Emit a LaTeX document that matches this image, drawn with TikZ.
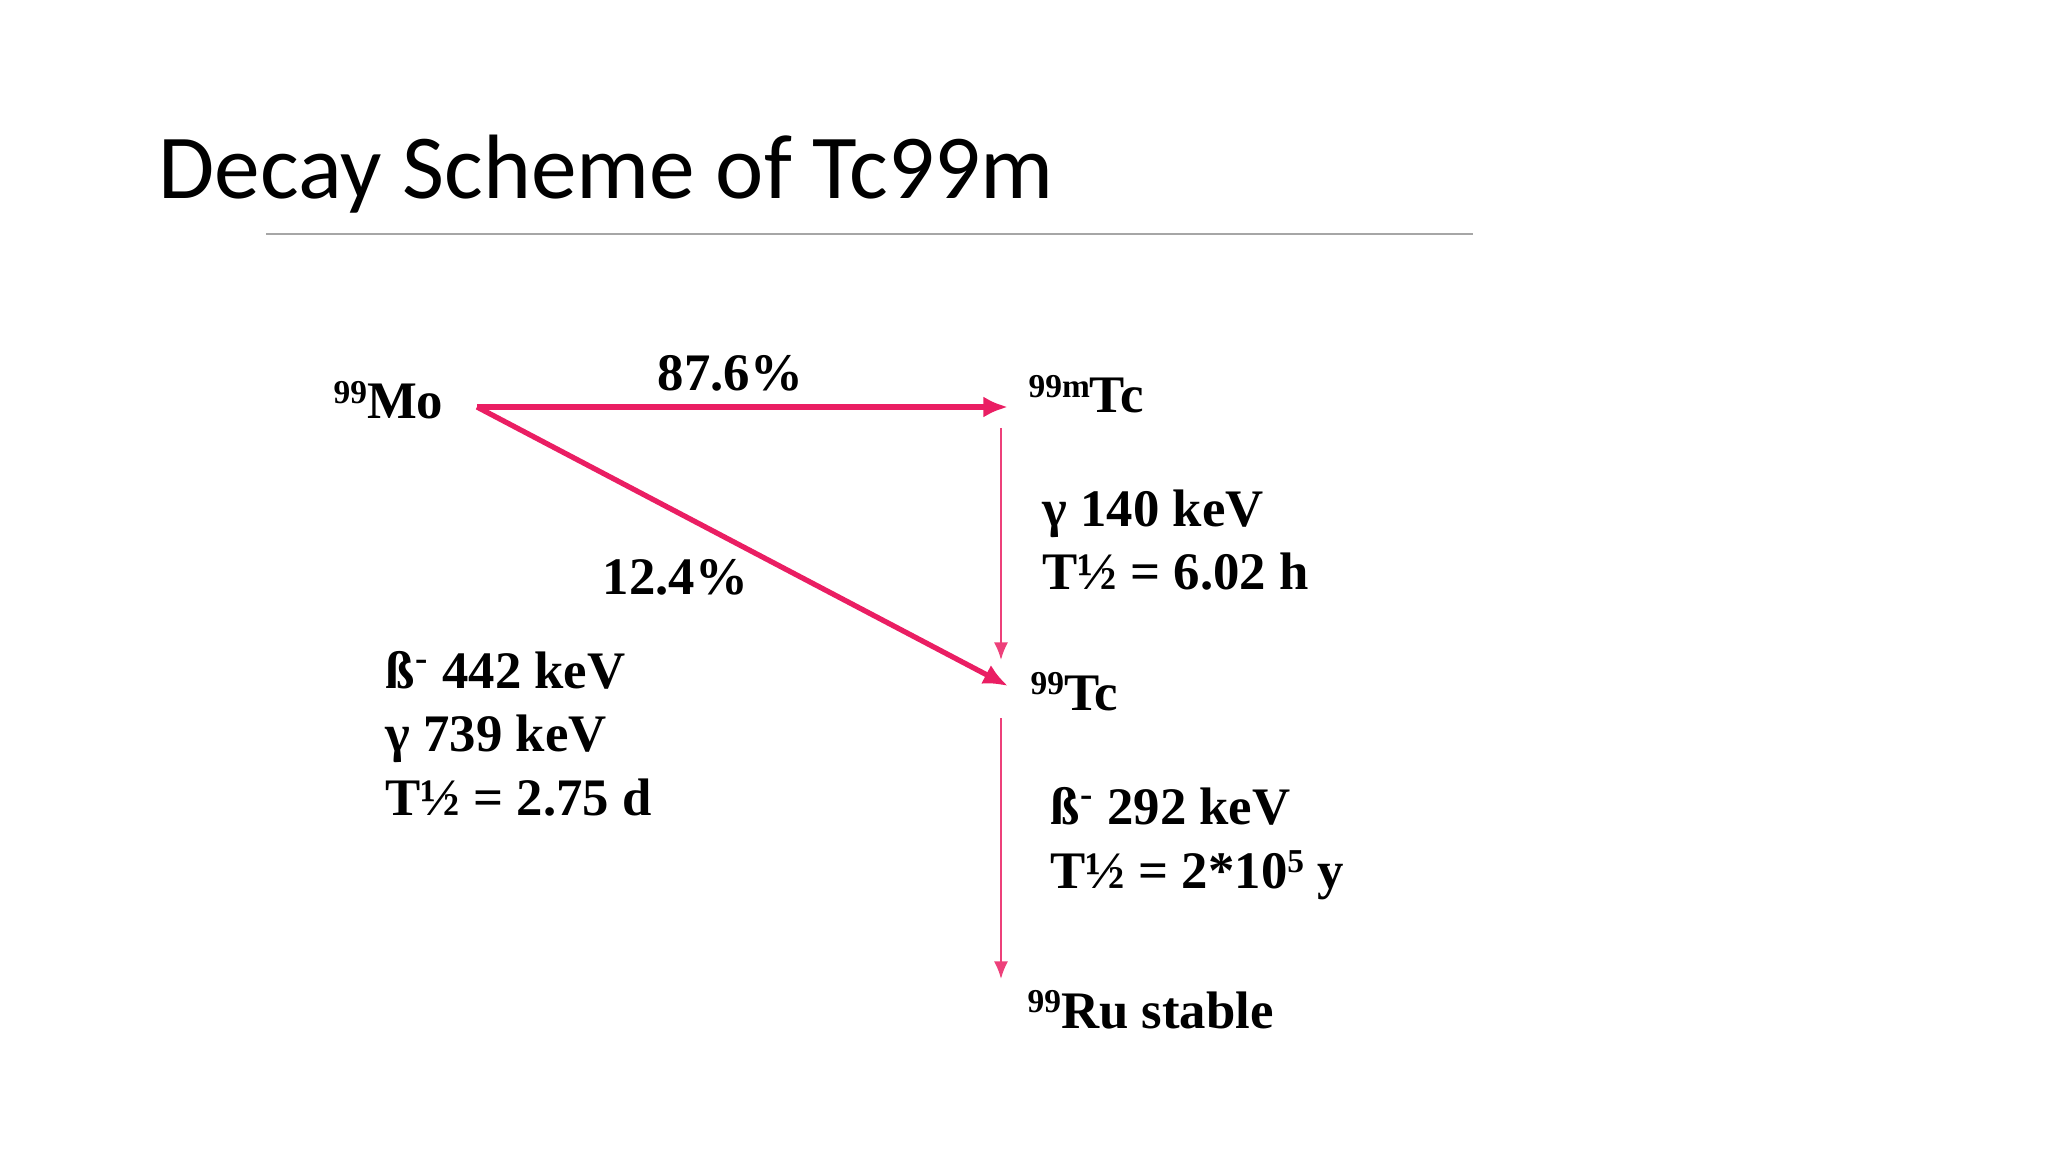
\documentclass[tikz,border=0pt]{standalone}
\usepackage{fontspec}
\setmainfont{Liberation Serif}
\newfontfamily\titlefont{Carlito}
\usetikzlibrary{arrows.meta}
\definecolor{decaypink}{RGB}{234,30,99}
\newcommand\iso[1]{\raisebox{0.62ex}{\fontsize{9.5pt}{10pt}\selectfont #1}}
\tikzset{
  level/.style={anchor=base west, inner sep=0pt, font=\fontsize{15pt}{18pt}\selectfont\bfseries},
  info/.style={level, align=left},
  decay/.style={decaypink, line width=1.5pt, -{Latex[length=7pt,width=6pt]}},
  gammaline/.style={decaypink!85, line width=0.6pt, -{Latex[length=5pt,width=4pt]}}
}
\begin{document}
\begin{tikzpicture}[x=0.01cm, y=-0.01cm]
\useasboundingbox (0,0) rectangle (2048,1152);
% title and rule
\node[anchor=base west, inner sep=0pt, font=\titlefont\fontsize{26pt}{30pt}\selectfont] (title) at (158,199) {Decay Scheme of Tc99m};
\draw[gray!70, line width=0.6pt] (266,234) -- (1473,234);
% levels
\node[level] (mo) at (333,419) {\iso{99}Mo};
\node[level] (tcm) at (1028,413) {\iso{99m}Tc};
\node[level] (tc) at (1030,710) {\iso{99}Tc};
\node[level] (ru) at (1027,1028) {\iso{99}Ru stable};
\coordinate (molev) at (477,407);
\coordinate (tcmlev) at (1008,407);
\coordinate (tclev) at (1008,686);
\coordinate (tcmtop) at (1001,428);
\coordinate (tcmbot) at (1001,660);
\coordinate (tctop) at (1001,718);
\coordinate (rubot) at (1001,979);
% decays
\draw[decay] (molev) -- (tcmlev);
\draw[decay] (molev) -- (tclev);
\draw[gammaline] (tcmtop) -- (tcmbot);
\draw[gammaline] (tctop) -- (rubot);
% labels (multi-line nodes sit on their last line)
\node[level] (pa) at (657,391) {87.6\%};
\node[level] (pb) at (602,594) {12.4\%};
\node[info] (moinfo) at (385,815) {ß\textsuperscript{-} 442 keV\\γ 739 keV\\T½ = 2.75 d};
\node[info] (tcminfo) at (1042,590) {γ 140 keV\\T½ = 6.02 h};
\node[info] (tcinfo) at (1050,888) {ß\textsuperscript{-} 292 keV\\T½ = 2*10\iso{5} y};
\end{tikzpicture}
\end{document}
